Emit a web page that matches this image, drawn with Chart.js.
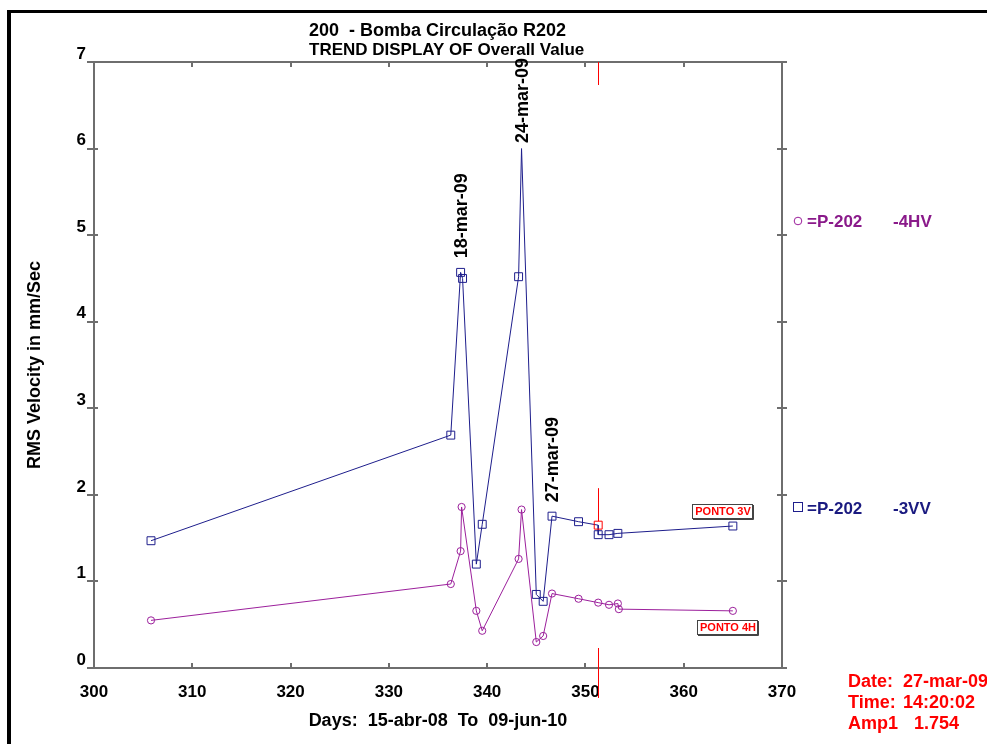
<!DOCTYPE html>
<html>
<head>
<meta charset="utf-8">
<title>TREND DISPLAY OF Overall Value</title>
<script src="https://cdn.jsdelivr.net/npm/chart.js@4.4.1/dist/chart.umd.min.js"></script>
<style>
  html, body { margin: 0; padding: 0; background: #fff; }
  canvas { display: block; }
</style>
</head>
<body>
<canvas id="trendChart" width="987" height="744"></canvas>
<script>
"use strict";
// P-202 -3VV readings: day number and RMS velocity (mm/s)
const daysVV = [305.8, 336.3, 337.3, 337.5, 338.9, 339.5, 343.2, 343.5, 345.0, 345.7, 346.6, 349.3, 351.3, 351.3, 352.4, 353.3, 365.0];
const valuesVV = [1.47, 2.69, 4.57, 4.50, 1.20, 1.66, 4.52, 6.00, 0.85, 0.77, 1.754, 1.69, 1.65, 1.54, 1.54, 1.555, 1.64];
// P-202 -4HV readings
const daysHV = [305.8, 336.3, 337.3, 337.4, 338.9, 339.5, 343.2, 343.5, 345.0, 345.7, 346.6, 349.3, 351.3, 352.4, 353.3, 353.4, 365.0];
const valuesHV = [0.55, 0.97, 1.35, 1.86, 0.66, 0.43, 1.26, 1.83, 0.30, 0.37, 0.86, 0.80, 0.755, 0.73, 0.745, 0.68, 0.66];

// dates written above some of the 3VV points
const markedPoints = [2, 7, 10];
const markedDates = ['18-mar-09', '24-mar-09', '27-mar-09'];
// the 24-mar peak has its marker hidden under the date
const hiddenMarker = 7;
// cursor sits on this 3VV reading
const cursorPoint = 12;

const seriesNames = ['=P-202', '=P-202'];
const seriesPoints = ['-4HV', '-3VV'];
const titleLines = ['200  - Bomba Circulação R202', 'TREND DISPLAY OF Overall Value'];
const yTitle = 'RMS Velocity in mm/Sec';
const xTitle = 'Days:  15-abr-08  To  09-jun-10';
const infoNames = ['Date:', 'Time:', 'Amp1'];
const infoValues = ['27-mar-09', '14:20:02', '1.754'];

const navy = '#1e1e8c';
const purple = '#9c209c';
const red = '#ff0000';
const bold = (size) => 'bold ' + size + 'px "Liberation Sans", Arial, sans-serif';

function toPoints(xs, ys) {
  let pts = [];
  for (let i = 0; i < xs.length; i++) {
    pts.push({ x: xs[i], y: ys[i] });
  }
  return pts;
}

function textBox(ctx, text, x, y, w, h) {
  ctx.fillStyle = '#fff';
  ctx.fillRect(x, y, w, h);
  ctx.strokeStyle = '#444';
  ctx.lineWidth = 1;
  ctx.strokeRect(x + 0.5, y + 0.5, w, h);
  ctx.beginPath();
  ctx.moveTo(x + w + 1.5, y + 1);
  ctx.lineTo(x + w + 1.5, y + h + 1.5);
  ctx.lineTo(x + 1, y + h + 1.5);
  ctx.stroke();
  ctx.fillStyle = red;
  ctx.font = bold(11);
  ctx.textAlign = 'center';
  ctx.textBaseline = 'middle';
  ctx.fillText(text, x + w / 2 + 1, y + h / 2 + 1);
}

const decor = {
  id: 'decor',
  beforeDraw(chart) {
    const ctx = chart.ctx;
    ctx.save();
    ctx.fillStyle = '#fff';
    ctx.fillRect(0, 0, chart.width, chart.height);
    ctx.restore();
  },
  afterDraw(chart) {
    const { ctx, chartArea: a, scales: { x, y } } = chart;
    ctx.save();

    // black frame
    ctx.fillStyle = '#000';
    ctx.fillRect(7, 10, chart.width - 7, 3);
    ctx.fillRect(7, 10, 4, chart.height - 10);

    // axis box and tick marks
    ctx.strokeStyle = '#6e6e6e';
    ctx.lineWidth = 2;
    ctx.beginPath();
    ctx.moveTo(a.left, a.top);
    ctx.lineTo(a.left, a.bottom);
    ctx.moveTo(a.right, a.top);
    ctx.lineTo(a.right, a.bottom);
    for (let v = 0; v <= 7; v++) {
      const py = Math.round(y.getPixelForValue(v));
      ctx.moveTo(a.left - 7, py);
      ctx.lineTo(a.left + 4, py);
      ctx.moveTo(a.right - 5, py);
      ctx.lineTo(a.right + 5, py);
    }
    ctx.moveTo(a.left, a.top);
    ctx.lineTo(a.right, a.top);
    ctx.moveTo(a.left, a.bottom);
    ctx.lineTo(a.right + 5, a.bottom);
    for (let d = 310; d < 370; d += 10) {
      const px = Math.round(x.getPixelForValue(d));
      ctx.moveTo(px, a.top);
      ctx.lineTo(px, a.top + 5);
      ctx.moveTo(px, a.bottom);
      ctx.lineTo(px, a.bottom - 5);
    }
    ctx.stroke();

    // cursor line
    const cx = Math.round(x.getPixelForValue(daysVV[cursorPoint])) + 0.5;
    const cy = y.getPixelForValue(valuesVV[cursorPoint]);
    ctx.strokeStyle = red;
    ctx.lineWidth = 1;
    ctx.beginPath();
    ctx.moveTo(cx, a.top);
    ctx.lineTo(cx, a.top + 23);
    ctx.moveTo(cx, cy - 37);
    ctx.lineTo(cx, cy - 4);
    ctx.moveTo(cx, a.bottom - 20);
    ctx.lineTo(cx, a.bottom + 30);
    ctx.stroke();

    // titles
    ctx.fillStyle = '#000';
    ctx.textAlign = 'left';
    ctx.textBaseline = 'alphabetic';
    ctx.font = bold(18);
    ctx.fillText(titleLines[0], 309, 36);
    ctx.font = bold(17);
    ctx.fillText(titleLines[1], 309, 55);

    ctx.font = bold(18);
    ctx.textAlign = 'center';
    ctx.fillText(xTitle, (a.left + a.right) / 2, 726);
    ctx.save();
    ctx.translate(40, (a.top + a.bottom) / 2);
    ctx.rotate(-Math.PI / 2);
    ctx.fillText(yTitle, 0, 0);
    ctx.restore();

    // date labels above marked points
    const meta = chart.getDatasetMeta(1);
    ctx.font = bold(18);
    ctx.textAlign = 'left';
    ctx.textBaseline = 'middle';
    for (let i = 0; i < markedPoints.length; i++) {
      const pt = meta.data[markedPoints[i]];
      const w = ctx.measureText(markedDates[i]).width;
      const start = Math.max(pt.y - 14, a.top - 4 + w);
      ctx.save();
      ctx.translate(pt.x + 1, start);
      ctx.rotate(-Math.PI / 2);
      ctx.fillText(markedDates[i], 0, 0);
      ctx.restore();
    }

    // point boxes
    textBox(ctx, 'PONTO 3V', 692, 504, 60, 14);
    textBox(ctx, 'PONTO 4H', 697, 620, 60, 14);

    // legend
    ctx.lineWidth = 1;
    ctx.strokeStyle = purple;
    ctx.beginPath();
    ctx.arc(798, 221, 3.8, 0, Math.PI * 2);
    ctx.stroke();
    ctx.strokeStyle = navy;
    ctx.strokeRect(793.5, 502.5, 9, 9);
    ctx.font = bold(17);
    ctx.textAlign = 'left';
    ctx.textBaseline = 'alphabetic';
    ctx.fillStyle = '#8a1a8a';
    ctx.fillText(seriesNames[0], 807, 227);
    ctx.fillText(seriesPoints[0], 893, 227);
    ctx.fillStyle = '#1a1a80';
    ctx.fillText(seriesNames[1], 807, 514);
    ctx.fillText(seriesPoints[1], 893, 514);

    // cursor readout
    ctx.fillStyle = red;
    ctx.font = bold(18);
    for (let i = 0; i < infoNames.length; i++) {
      const by = 687 + i * 21;
      ctx.fillText(infoNames[i], 848, by);
      ctx.fillText(infoValues[i], i === 2 ? 914 : 903, by);
    }
    ctx.restore();
  }
};

const config = {
  type: 'scatter',
  data: {
    datasets: [{
      label: seriesNames[0] + ' ' + seriesPoints[0],
      data: toPoints(daysHV, valuesHV),
      showLine: true,
      borderColor: purple,
      borderWidth: 1,
      pointStyle: 'circle',
      pointRadius: 3.6,
      pointBorderWidth: 1,
      pointBorderColor: purple,
      pointBackgroundColor: 'rgba(0,0,0,0)'
    },
    {
      label: seriesNames[1] + ' ' + seriesPoints[1],
      data: toPoints(daysVV, valuesVV),
      showLine: true,
      borderColor: navy,
      borderWidth: 1,
      pointStyle: 'rect',
      pointRadius: (c) => c.dataIndex === hiddenMarker ? 0 : 5.6,
      pointBorderWidth: 1,
      pointBorderColor: (c) => c.dataIndex === cursorPoint ? red : navy,
      pointBackgroundColor: 'rgba(0,0,0,0)'
    }]
  },
  options: {
    responsive: false,
    animation: false,
    devicePixelRatio: 1,
    layout: { padding: { left: 0, top: 62, right: 205, bottom: 0 } },
    plugins: {
      legend: { display: false },
      tooltip: { enabled: false },
      title: { display: false }
    },
    scales: {
      x: {
        type: 'linear',
        min: 300,
        max: 370,
        afterFit(scale) { scale.height = 76; },
        grid: { display: false, drawTicks: false },
        border: { display: false },
        ticks: { stepSize: 10, color: '#000', font: { family: '"Liberation Sans", Arial, sans-serif', size: 17, weight: 'bold' }, padding: 14, maxRotation: 0 }
      },
      y: {
        min: 0,
        max: 7,
        afterFit(scale) { scale.width = 94; },
        grid: { display: false, drawTicks: false },
        border: { display: false },
        ticks: { stepSize: 1, color: '#000', font: { family: '"Liberation Sans", Arial, sans-serif', size: 17, weight: 'bold' }, padding: 8, labelOffset: -8 }
      }
    }
  },
  plugins: [decor]
};

const myChart = new Chart(document.getElementById('trendChart'), config);
</script>
</body>
</html>
